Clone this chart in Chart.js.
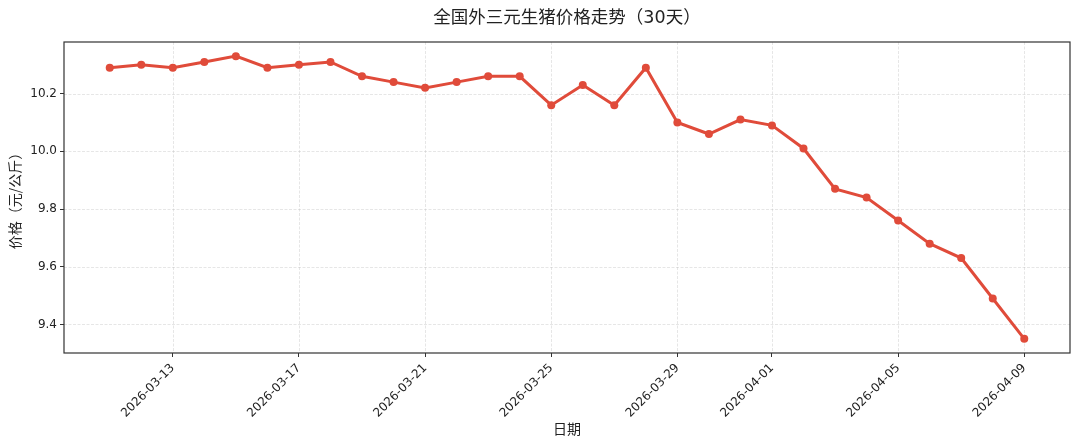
<!DOCTYPE html>
<html>
<head>
<meta charset="utf-8">
<script src="https://cdn.jsdelivr.net/npm/chart.js@4.4.1/dist/chart.umd.min.js"></script>
<style>
html,body{margin:0;padding:0;background:#fff;}
#wrap{width:1080px;height:446px;position:relative;}
</style>
</head>
<body>
<div id="wrap"><canvas id="c" width="1080" height="446"></canvas></div>
<script>
const dates = ["2026-03-11","2026-03-12","2026-03-13","2026-03-14","2026-03-15","2026-03-16","2026-03-17","2026-03-18","2026-03-19","2026-03-20","2026-03-21","2026-03-22","2026-03-23","2026-03-24","2026-03-25","2026-03-26","2026-03-27","2026-03-28","2026-03-29","2026-03-30","2026-03-31","2026-04-01","2026-04-02","2026-04-03","2026-04-04","2026-04-05","2026-04-06","2026-04-07","2026-04-08","2026-04-09"];
const prices = [10.29,10.30,10.29,10.31,10.33,10.29,10.30,10.31,10.26,10.24,10.22,10.24,10.26,10.26,10.16,10.23,10.16,10.29,10.10,10.06,10.11,10.09,10.01,9.87,9.84,9.76,9.68,9.63,9.49,9.35];
const xTickDates = ["2026-03-13","2026-03-17","2026-03-21","2026-03-25","2026-03-29","2026-04-01","2026-04-05","2026-04-09"];
const yTicks = [9.4,9.6,9.8,10.0,10.2];
const titleText = "全国外三元生猪价格走势（30天）";
const xTitle = "日期";
const yTitle = "价格（元/公斤）";

const FONT = "'DejaVu Sans','Noto Sans CJK SC',sans-serif";
const CJK = "'Noto Sans CJK SC','DejaVu Sans',sans-serif";
const points = prices.map((v,i)=>({x:i,y:v}));
const n = dates.length;
const xr = (n-1)*0.05;
const ymin = Math.min(...prices), ymax = Math.max(...prices);
const yr = (ymax-ymin)*0.05;

const framePlugin = {
  id:'frame',
  beforeDatasetsDraw(chart){
    const a = chart.chartArea, ctx = chart.ctx;
    ctx.save();
    ctx.strokeStyle = 'rgba(176,176,176,0.4)';
    ctx.lineWidth = 0.8;
    ctx.setLineDash([3,1.5]);
    const xs = chart.scales.x, ys = chart.scales.y;
    xs.ticks.forEach(t=>{
      const px = Math.round(xs.getPixelForValue(t.value))+0.5;
      ctx.beginPath(); ctx.moveTo(px,a.top); ctx.lineTo(px,a.bottom); ctx.stroke();
    });
    ys.ticks.forEach(t=>{
      const py = Math.round(ys.getPixelForValue(t.value))+0.5;
      ctx.beginPath(); ctx.moveTo(a.left,py); ctx.lineTo(a.right,py); ctx.stroke();
    });
    ctx.restore();
  },
  afterDraw(chart){
    const a = chart.chartArea, ctx = chart.ctx;
    ctx.save();
    ctx.strokeStyle = '#333';
    ctx.lineWidth = 1.2;
    ctx.strokeRect(a.left, a.top, a.right-a.left, a.bottom-a.top);
    ctx.fillStyle = '#222';
    ctx.font = "17.5px " + FONT;
    ctx.textAlign = 'center';
    ctx.textBaseline = 'middle';
    ctx.fillText(titleText, (a.left+a.right)/2, 18);
    ctx.restore();
  }
};

new Chart(document.getElementById('c'), {
  type:'line',
  data:{datasets:[{
    data: points,
    borderColor:'#e04b3a',
    backgroundColor:'#e04b3a',
    borderWidth:3,
    pointRadius:4,
    pointHoverRadius:4,
    pointBorderWidth:0,
    tension:0
  }]},
  options:{
    responsive:false,
    animation:false,
    layout:{padding:{top:42,right:10,left:0,bottom:0}},
    plugins:{legend:{display:false},tooltip:{enabled:false},title:{display:false}},
    scales:{
      x:{
        type:'linear',
        min:-xr, max:(n-1)+xr,
        afterBuildTicks(scale){
          scale.ticks = xTickDates.map(d=>({value:dates.indexOf(d)}));
        },
        afterFit(scale){ scale.height = 93; },
        ticks:{
          autoSkip:false, minRotation:45, maxRotation:45,
          color:'#222', font:{family:FONT,size:12}, padding:4,
          callback:(v)=>dates[v]
        },
        grid:{drawOnChartArea:false, tickColor:'#333', tickLength:4, tickWidth:1},
        border:{display:false},
        title:{display:true,text:xTitle,color:'#222',font:{family:CJK,size:14},padding:{top:0,bottom:9}}
      },
      y:{
        type:'linear',
        min:ymin-yr, max:ymax+yr,
        afterBuildTicks(scale){
          scale.ticks = yTicks.map(v=>({value:v}));
        },
        afterFit(scale){ scale.width = 64; },
        ticks:{color:'#222', font:{family:FONT,size:12}, padding:3, callback:(v)=>v.toFixed(1)},
        grid:{drawOnChartArea:false, tickColor:'#333', tickLength:4, tickWidth:1},
        border:{display:false},
        title:{display:true,text:yTitle,color:'#222',font:{family:CJK,size:14},padding:{top:6,bottom:0}}
      }
    }
  },
  plugins:[framePlugin]
});
</script>
</body>
</html>
